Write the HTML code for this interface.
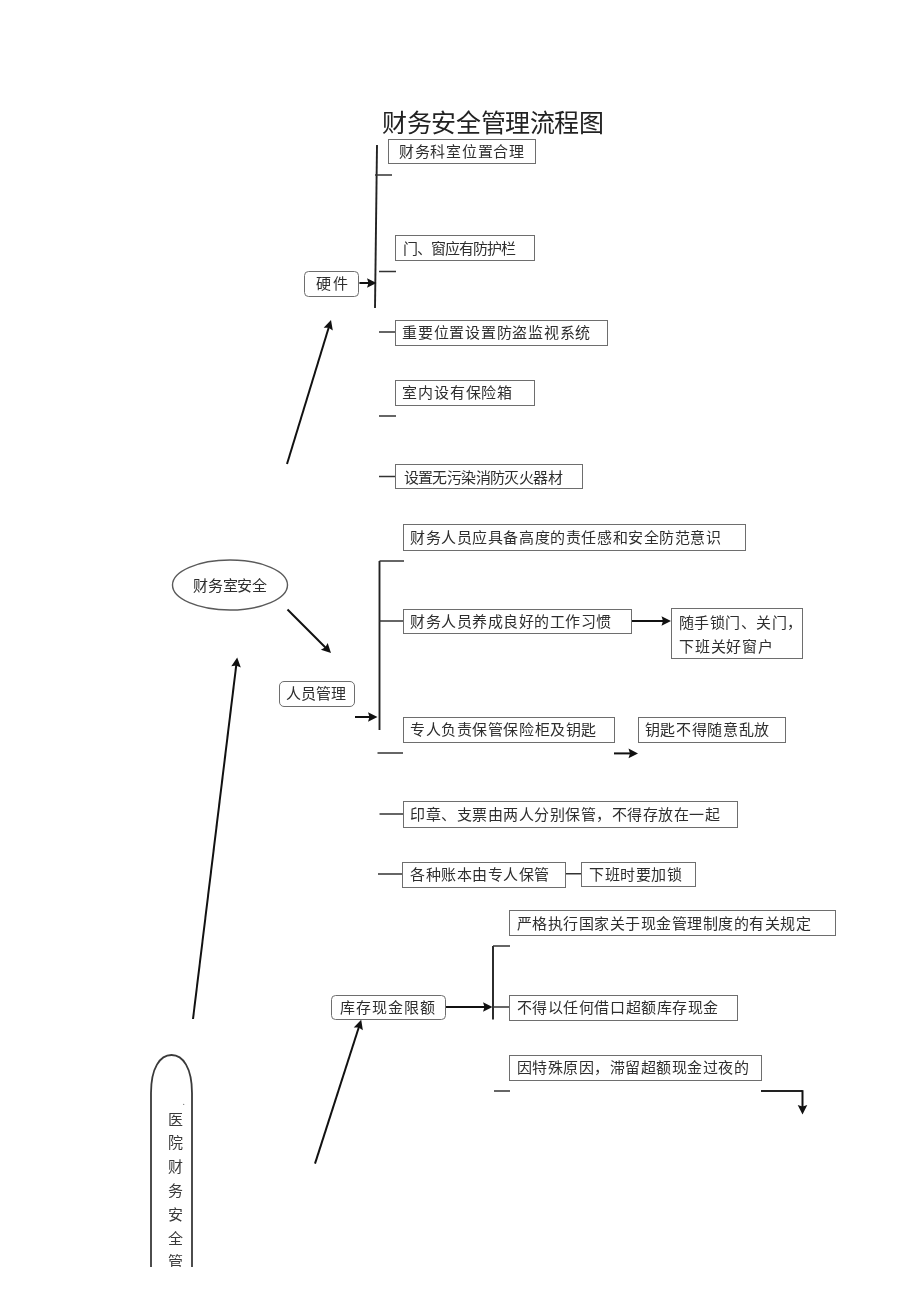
<!DOCTYPE html>
<html lang="zh-CN"><head><meta charset="utf-8"><style>
html,body{margin:0;padding:0;background:#fff;}
body{width:920px;height:1301px;position:relative;overflow:hidden;font-family:"Liberation Serif",serif;color:#2e2e2e;}
#wrap{position:absolute;left:0;top:0;width:920px;height:1301px;filter:blur(0.35px);}
.b{position:absolute;box-sizing:border-box;border:1.4px solid #6e6e6e;background:#fff;}
.t{position:absolute;white-space:nowrap;font-size:15px;line-height:1;}
svg{position:absolute;left:0;top:0;}
</style></head><body><div id="wrap">

<svg width="920" height="1301" viewBox="0 0 920 1301"><line x1="377" y1="145" x2="375" y2="308" stroke="#222" stroke-width="1.9"/><line x1="375" y1="175" x2="392" y2="175" stroke="#333" stroke-width="1.5"/><line x1="379" y1="271.5" x2="396" y2="271.5" stroke="#333" stroke-width="1.5"/><line x1="379" y1="332" x2="395" y2="332" stroke="#333" stroke-width="1.5"/><line x1="379" y1="416" x2="396" y2="416" stroke="#333" stroke-width="1.5"/><line x1="379" y1="476.5" x2="395" y2="476.5" stroke="#333" stroke-width="1.5"/><line x1="359.4" y1="283" x2="369.0" y2="283.0" stroke="#111" stroke-width="2.0"/><polygon points="376.50,283.00 367.00,287.80 368.50,283.00 367.00,278.20" fill="#111"/><line x1="287" y1="464" x2="328.8083609830074" y2="327.17263678288504" stroke="#111" stroke-width="2.0"/><polygon points="331.00,320.00 332.81,330.49 328.66,327.65 323.63,327.68" fill="#111"/><line x1="287.5" y1="609.5" x2="325.6966991411009" y2="647.6966991411009" stroke="#111" stroke-width="2.0"/><polygon points="331.00,653.00 320.89,649.68 325.34,647.34 327.68,642.89" fill="#111"/><line x1="193" y1="1019" x2="236.2897661024787" y2="664.9445600442069" stroke="#111" stroke-width="2.0"/><polygon points="237.20,657.50 240.81,667.51 236.23,665.44 231.28,666.35" fill="#111"/><line x1="379.5" y1="561" x2="379.5" y2="730" stroke="#222" stroke-width="1.9"/><line x1="379.5" y1="561" x2="404" y2="561" stroke="#333" stroke-width="1.5"/><line x1="379.5" y1="621" x2="403" y2="621" stroke="#333" stroke-width="1.5"/><line x1="377.5" y1="753" x2="403" y2="753" stroke="#333" stroke-width="1.5"/><line x1="355" y1="717" x2="370.0" y2="717.0" stroke="#111" stroke-width="2.0"/><polygon points="377.50,717.00 368.00,721.80 369.50,717.00 368.00,712.20" fill="#111"/><line x1="632" y1="621" x2="663.5" y2="621.0" stroke="#111" stroke-width="2.0"/><polygon points="671.00,621.00 661.50,625.80 663.00,621.00 661.50,616.20" fill="#111"/><line x1="614" y1="753.4" x2="630.5" y2="753.4" stroke="#111" stroke-width="2.0"/><polygon points="638.00,753.40 628.50,758.20 630.00,753.40 628.50,748.60" fill="#111"/><line x1="379.5" y1="814" x2="403" y2="814" stroke="#333" stroke-width="1.5"/><line x1="378" y1="874" x2="402" y2="874" stroke="#333" stroke-width="1.5"/><line x1="566" y1="873.75" x2="581" y2="873.75" stroke="#333" stroke-width="1.5"/><line x1="445.5" y1="1007" x2="485.0" y2="1007.0" stroke="#111" stroke-width="2.0"/><polygon points="492.50,1007.00 483.00,1011.80 484.50,1007.00 483.00,1002.20" fill="#111"/><line x1="493" y1="946" x2="493" y2="1019.5" stroke="#222" stroke-width="1.9"/><line x1="493" y1="946" x2="510" y2="946" stroke="#333" stroke-width="1.5"/><line x1="493" y1="1007" x2="509" y2="1007" stroke="#333" stroke-width="1.5"/><line x1="494" y1="1091" x2="510" y2="1091" stroke="#333" stroke-width="1.5"/><line x1="761" y1="1091" x2="802.5" y2="1091" stroke="#222" stroke-width="1.8"/><line x1="802.5" y1="1090.2" x2="802.5" y2="1107.0" stroke="#111" stroke-width="2.0"/><polygon points="802.50,1114.50 797.70,1105.00 802.50,1106.50 807.30,1105.00" fill="#111"/><line x1="315" y1="1163.6" x2="358.9058955837761" y2="1026.940524135346" stroke="#111" stroke-width="2.0"/><polygon points="361.20,1019.80 362.86,1030.31 358.75,1027.42 353.72,1027.38" fill="#111"/><ellipse cx="230" cy="585" rx="57.5" ry="25" fill="none" stroke="#5a5a5a" stroke-width="1.4"/><path d="M151,1267 L151,1093 C151,1068 160,1055 171.5,1055 C183,1055 192,1068 192,1093 L192,1267" fill="none" stroke="#3a3a3a" stroke-width="1.8"/><circle cx="183.7" cy="1104.4" r="0.6" fill="#777"/></svg>
<div class="b" style="left:671.2px;top:608.4px;width:131.5px;height:50.5px;"></div>
<div class="b" style="left:388px;top:138.5px;width:148.00px;height:25.00px;"></div>
<div class="t" id="t0" style="left:399.00px;top:145.25px;letter-spacing:0.714px;">财务科室位置合理</div>
<div class="b" style="left:395px;top:235px;width:139.50px;height:26.00px;"></div>
<div class="t" id="t1" style="left:403.00px;top:241.50px;letter-spacing:-1.000px;">门、窗应有防护栏</div>
<div class="b" style="left:395px;top:319.5px;width:212.50px;height:26.00px;"></div>
<div class="t" id="t2" style="left:402.25px;top:326.25px;letter-spacing:0.727px;">重要位置设置防盗监视系统</div>
<div class="b" style="left:395px;top:379.5px;width:139.50px;height:26.00px;"></div>
<div class="t" id="t3" style="left:402.25px;top:386.00px;letter-spacing:0.833px;">室内设有保险箱</div>
<div class="b" style="left:395px;top:463.75px;width:188.00px;height:25.00px;"></div>
<div class="t" id="t4" style="left:403.50px;top:470.62px;letter-spacing:-0.600px;">设置无污染消防灭火器材</div>
<div class="b" style="left:304px;top:271px;width:55.40px;height:25.90px;border-radius:4.5px;"></div>
<div class="t" id="t5" style="left:315.75px;top:276.78px;letter-spacing:2.300px;">硬件</div>
<div class="b" style="left:403px;top:524px;width:342.50px;height:26.50px;"></div>
<div class="t" id="t6" style="left:410.00px;top:531.00px;letter-spacing:0.579px;">财务人员应具备高度的责任感和安全防范意识</div>
<div class="b" style="left:403px;top:609px;width:229.00px;height:25.00px;"></div>
<div class="t" id="t7" style="left:410.00px;top:614.75px;letter-spacing:0.500px;">财务人员养成良好的工作习惯</div>
<div class="b" style="left:403px;top:717.1px;width:212.40px;height:26.40px;"></div>
<div class="t" id="t8" style="left:410.00px;top:723.35px;letter-spacing:0.564px;">专人负责保管保险柜及钥匙</div>
<div class="b" style="left:637.5px;top:717px;width:148.00px;height:26.00px;"></div>
<div class="t" id="t9" style="left:644.75px;top:723.35px;letter-spacing:0.643px;">钥匙不得随意乱放</div>
<div class="b" style="left:278.5px;top:680.6px;width:76.50px;height:26.90px;border-radius:5px;"></div>
<div class="t" id="t10" style="left:285.70px;top:687.15px;letter-spacing:0.233px;">人员管理</div>
<div class="b" style="left:403px;top:801px;width:334.50px;height:26.50px;"></div>
<div class="t" id="t11" style="left:410.00px;top:807.75px;letter-spacing:0.526px;">印章、支票由两人分别保管，不得存放在一起</div>
<div class="b" style="left:402px;top:861.5px;width:164.00px;height:26.00px;"></div>
<div class="t" id="t12" style="left:410.00px;top:867.62px;letter-spacing:0.562px;">各种账本由专人保管</div>
<div class="b" style="left:580.6px;top:862px;width:115.40px;height:25.00px;"></div>
<div class="t" id="t13" style="left:589.00px;top:867.62px;letter-spacing:0.600px;">下班时要加锁</div>
<div class="b" style="left:509px;top:910px;width:326.50px;height:26.00px;"></div>
<div class="t" id="t14" style="left:516.50px;top:916.50px;letter-spacing:0.500px;">严格执行国家关于现金管理制度的有关规定</div>
<div class="b" style="left:509px;top:994.5px;width:229.00px;height:26.00px;"></div>
<div class="t" id="t15" style="left:516.50px;top:1001.00px;letter-spacing:0.583px;">不得以任何借口超额库存现金</div>
<div class="b" style="left:509px;top:1054.5px;width:253.00px;height:26.00px;"></div>
<div class="t" id="t16" style="left:516.50px;top:1061.00px;letter-spacing:0.500px;">因特殊原因，滞留超额现金过夜的</div>
<div class="b" style="left:330.5px;top:994.5px;width:115.00px;height:25.00px;border-radius:4.5px;"></div>
<div class="t" id="t17" style="left:340.00px;top:1000.50px;letter-spacing:1.000px;">库存现金限额</div>
<div class="t" id="t18" style="left:679.00px;top:615.50px;letter-spacing:0.486px;">随手锁门、关门，</div>
<div class="t" id="t19" style="left:679.00px;top:639.50px;letter-spacing:0.800px;">下班关好窗户</div>
<div class="t" id="t20" style="left:193.00px;top:578.75px;letter-spacing:-0.250px;">财务室安全</div>
<div class="t" id="t21" style="left:382.00px;top:111.00px;letter-spacing:-0.375px;font-size:25px;color:#222;">财务安全管理流程图</div>
<div class="t" style="left:168px;top:1112.60px;font-size:15px;color:#3a3a3a;">医</div>
<div class="t" style="left:168px;top:1136.40px;font-size:15px;color:#3a3a3a;">院</div>
<div class="t" style="left:168px;top:1160.20px;font-size:15px;color:#3a3a3a;">财</div>
<div class="t" style="left:168px;top:1184.00px;font-size:15px;color:#3a3a3a;">务</div>
<div class="t" style="left:168px;top:1207.80px;font-size:15px;color:#3a3a3a;">安</div>
<div class="t" style="left:168px;top:1231.60px;font-size:15px;color:#3a3a3a;">全</div>
<div class="t" style="left:168px;top:1255.40px;font-size:15px;color:#3a3a3a;">管</div>
<div style="position:absolute;left:140px;top:1267px;width:80px;height:40px;background:#fff"></div>
</div></body></html>
